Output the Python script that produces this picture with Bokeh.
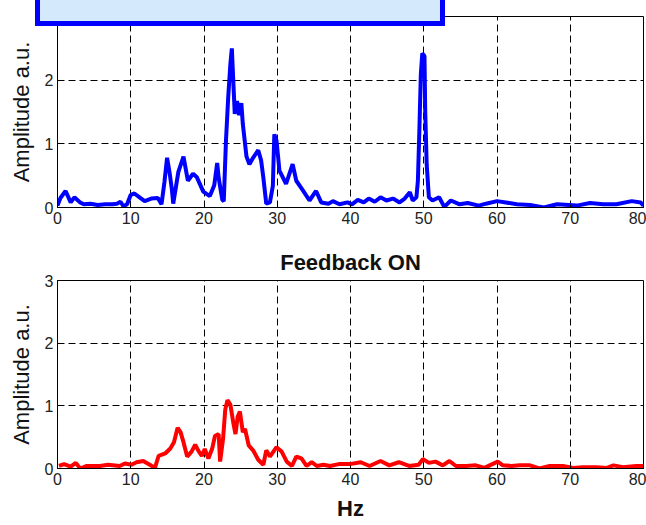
from bokeh.plotting import figure
from bokeh.layouts import column
from bokeh.models import Div, FixedTicker
from bokeh.embed import file_html
from bokeh.resources import INLINE

# ---- data ----
x_ticks = [0, 10, 20, 30, 40, 50, 60, 70, 80]
y_ticks = [0, 1, 2, 3]

freq_off = [0.0, 0.4, 1.1, 1.8, 2.3, 3.1, 3.6, 4.5, 5.5, 6.5, 7.5, 8.1, 8.6, 9.0, 9.5,
            10.0, 10.5, 11.2, 11.9, 12.8, 13.7, 14.2, 14.6, 14.96, 15.3, 15.6, 15.8,
            16.5, 17.2, 17.8, 18.5, 19.0, 19.9, 20.8, 21.4, 21.8, 22.0, 22.5, 22.7,
            23.0, 23.3, 23.6, 23.8, 24.0, 24.2, 24.5, 24.8, 25.1, 25.3, 25.8, 26.2,
            26.7, 27.4, 27.8, 28.1, 28.5, 29.0, 29.4, 29.6, 29.9, 30.3, 31.2, 32.1,
            32.6, 33.5, 34.4, 35.3, 36.0, 37.0, 37.6, 38.5, 39.6, 40.2, 41.0, 41.8,
            42.5, 43.3, 44.1, 44.9, 45.8, 46.7, 47.4, 48.1, 48.5, 49.0, 49.2, 49.4,
            49.6, 49.8, 50.1, 50.2, 50.4, 50.7, 51.2, 52.1, 52.8, 53.7, 54.9, 56.0,
            57.5, 58.5, 60.0, 61.2, 62.7, 64.5, 66.4, 68.2, 70.9, 72.7, 74.5, 76.3,
            78.4, 79.6, 80.0]
amp_off = [0.03, 0.15, 0.26, 0.08, 0.16, 0.08, 0.05, 0.06, 0.04, 0.05, 0.05, 0.06, 0.09, 0.02, 0.05,
           0.20, 0.22, 0.16, 0.10, 0.14, 0.15, 0.05, 0.40, 0.78, 0.55, 0.30, 0.06,
           0.56, 0.80, 0.42, 0.53, 0.48, 0.25, 0.18, 0.35, 0.70, 0.47, 0.12, 0.10,
           1.05, 1.72, 2.25, 2.50, 1.98, 1.47, 1.67, 1.45, 1.64, 1.31, 0.80, 0.68,
           0.78, 0.90, 0.74, 0.47, 0.06, 0.08, 0.34, 1.15, 1.05, 0.58, 0.37, 0.68,
           0.42, 0.27, 0.11, 0.26, 0.08, 0.06, 0.10, 0.05, 0.08, 0.05, 0.12, 0.08,
           0.14, 0.09, 0.16, 0.11, 0.14, 0.08, 0.14, 0.24, 0.11, 0.16, 0.42, 1.20,
           2.09, 2.42, 2.38, 1.52, 0.68, 0.16, 0.11, 0.16, 0.01, 0.11, 0.05, 0.07,
           0.03, 0.06, 0.10, 0.08, 0.05, 0.04, 0.00, 0.05, 0.03, 0.07, 0.05, 0.05,
           0.10, 0.08, 0.03]

freq_on = [0.2, 0.9, 1.8, 2.5, 3.1, 4.0, 5.8, 6.9, 8.5, 9.2, 10.1, 10.8, 11.7, 12.6, 13.3,
           13.8, 14.7, 15.4, 15.9, 16.4, 16.8, 17.2, 17.7, 18.3, 18.8, 19.2, 19.7, 20.1,
           20.6, 21.1, 21.5, 22.0, 22.2, 22.6, 22.9, 23.2, 23.6, 24.0, 24.3, 24.6, 24.9,
           25.3, 25.6, 26.1, 26.7, 27.4, 28.1, 28.5, 29.0, 29.9, 30.6, 31.3, 32.0, 32.6,
           33.3, 34.0, 34.7, 35.4, 36.3, 37.2, 38.4, 39.9, 41.4, 42.6, 44.1, 45.3, 46.6,
           48.0, 49.3, 49.9, 50.7, 51.6, 52.6, 53.5, 54.4, 55.8, 57.1, 58.3, 59.0, 60.1,
           60.8, 62.0, 63.1, 64.5, 65.8, 67.2, 69.0, 70.4, 71.7, 73.6, 75.0, 75.9, 77.2,
           79.0, 80.0]
amp_on = [0.04, 0.07, 0.03, 0.09, 0.00, 0.04, 0.04, 0.06, 0.04, 0.08, 0.06, 0.10, 0.12, 0.06, 0.01,
          0.20, 0.24, 0.32, 0.42, 0.65, 0.58, 0.42, 0.19, 0.27, 0.38, 0.29, 0.20, 0.31,
          0.16, 0.31, 0.52, 0.55, 0.11, 0.47, 0.94, 1.09, 1.02, 0.73, 0.55, 0.83, 0.91,
          0.58, 0.63, 0.37, 0.29, 0.14, 0.06, 0.29, 0.19, 0.34, 0.27, 0.11, 0.04, 0.19,
          0.16, 0.04, 0.10, 0.04, 0.06, 0.04, 0.07, 0.07, 0.10, 0.04, 0.12, 0.05, 0.10,
          0.04, 0.06, 0.15, 0.09, 0.11, 0.05, 0.12, 0.04, 0.04, 0.05, 0.01, 0.05, 0.11,
          0.05, 0.04, 0.05, 0.05, 0.00, 0.04, 0.04, 0.01, 0.02, 0.02, 0.01, 0.05, 0.02,
          0.04, 0.04]

FONT = "Liberation Sans"


def style(p):
    p.xaxis.ticker = FixedTicker(ticks=x_ticks)
    p.yaxis.ticker = FixedTicker(ticks=y_ticks)
    for ax in (p.xaxis, p.yaxis):
        ax.major_label_text_font = FONT
        ax.major_label_text_font_size = "16px"
        ax.major_label_text_color = "#222222"
        ax.minor_tick_line_color = None
        ax.major_tick_in = 3
        ax.major_tick_out = 0
        ax.axis_line_color = "black"
        ax.major_tick_line_color = "black"
        ax.major_label_standoff = 4
    p.grid.grid_line_color = "black"
    p.grid.grid_line_dash = "7 4"
    p.grid.grid_line_width = 1
    p.outline_line_color = "black"
    p.outline_line_width = 1
    p.outline_line_alpha = 1
    p.background_fill_color = "white"
    p.border_fill_color = "white"
    p.yaxis.axis_label = "Amplitude a.u."
    p.yaxis.axis_label_text_font = FONT
    p.yaxis.axis_label_text_font_size = "22px"
    p.yaxis.axis_label_text_font_style = "normal"
    p.yaxis.axis_label_text_color = "#111111"
    p.yaxis.axis_label_standoff = 8


# light-blue box with blue border that covers the top of the first panel
box = Div(
    text="", width=410, height=31,
    styles={"position": "absolute", "left": "30px", "top": "-10px",
            "background-color": "#d4eafc", "border": "5px solid #0000ff",
            "box-sizing": "border-box", "z-index": "10"},
)

p1 = figure(width=646, height=240, x_range=(0, 80), y_range=(0, 3),
            output_backend="svg", toolbar_location=None,
            min_border_left=57, min_border_right=3, min_border_top=16, min_border_bottom=33)
style(p1)
p1.line(freq_off, amp_off, line_color="#0000ff", line_width=4)

p2 = figure(width=646, height=283, x_range=(0, 80), y_range=(0, 3),
            output_backend="svg", toolbar_location=None,
            min_border_left=57, min_border_right=3, min_border_top=40, min_border_bottom=49,
            title="Feedback ON")
style(p2)
p2.title.align = "center"
p2.title.text_font = FONT
p2.title.text_font_size = "22px"
p2.title.text_font_style = "bold"
p2.title.text_color = "#111111"
p2.title.standoff = 12
p2.title.offset = -3
p2.xaxis.axis_label = "Hz"
p2.xaxis.axis_label_text_font = FONT
p2.xaxis.axis_label_text_font_size = "22px"
p2.xaxis.axis_label_text_font_style = "bold"
p2.xaxis.axis_label_text_color = "#111111"
p2.xaxis.axis_label_standoff = 8
p2.line(freq_on, amp_on, line_color="#ff0000", line_width=4)

layout = column(p1, p2, box, spacing=0)
open("out.html", "w").write(file_html(layout, INLINE))
